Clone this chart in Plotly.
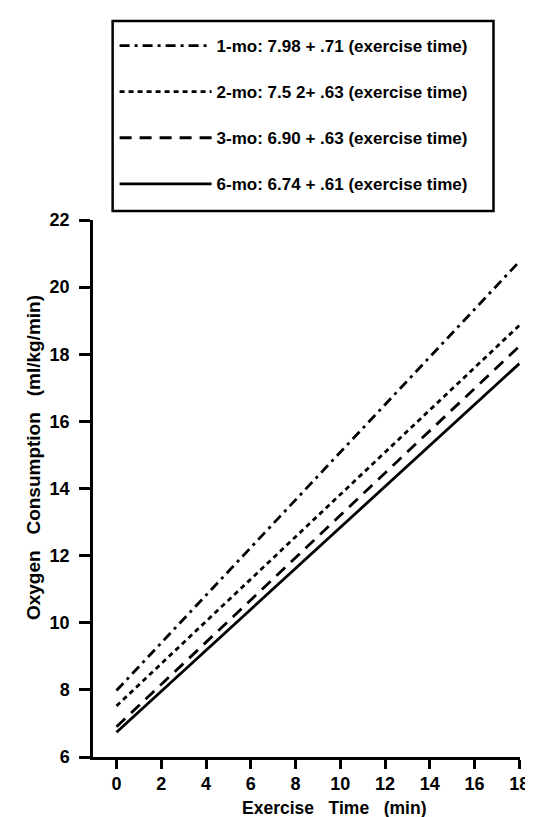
import plotly.graph_objects as go

# Data (line endpoints at exercise time 0 and 18 min)
exercise_time = [0, 18]
names = [
    "1-mo: 7.98 + .71 (exercise time)",
    "2-mo: 7.5 2+ .63 (exercise time)",
    "3-mo: 6.90 + .63 (exercise time)",
    "6-mo: 6.74 + .61 (exercise time)",
]
vo2_1mo = [7.98, 20.76]
vo2_2mo = [7.52, 18.86]
vo2_3mo = [6.90, 18.24]
vo2_6mo = [6.74, 17.72]

x_ticks = [0, 2, 4, 6, 8, 10, 12, 14, 16, 18]
y_ticks = [6, 8, 10, 12, 14, 16, 18, 20, 22]

series = [vo2_1mo, vo2_2mo, vo2_3mo, vo2_6mo]
dashes = ["10px,5px,3px,5px", "5px,4px", "12px,8px", "solid"]

FONT = "Liberation Sans"
W, H = 533, 817
L, R, T, B = 85, 13, 212, 68
pw = W - L - R
ph = H - T - B


def px_x(p):
    return (p - L) / pw


def px_y(p):
    return (H - B - p) / ph


fig = go.Figure()
for i, (nm, ys, d) in enumerate(zip(names, series, dashes)):
    fig.add_trace(go.Scatter(
        x=exercise_time, y=ys, mode="lines", name=nm,
        legendgroup=f"g{i}",
        line=dict(color="black", width=2.8, dash=d),
    ))

fig.update_layout(
    width=W, height=H,
    margin=dict(l=L, r=R, t=T, b=B),
    paper_bgcolor="white", plot_bgcolor="white",
    font=dict(family=FONT, color="black", size=15, weight="bold"),
    showlegend=True,
    legend=dict(
        x=px_x(107), y=px_y(20), xanchor="left", yanchor="top",
        borderwidth=0,
        font=dict(family=FONT, size=17, color="black", weight="bold"),
        itemwidth=92, tracegroupgap=21,
        bgcolor="rgba(0,0,0,0)",
    ),
    xaxis=dict(
        range=[-1.05, 18.03], tickvals=x_ticks, ticktext=[str(v) for v in x_ticks],
        showgrid=False, zeroline=False, showline=True, linecolor="black", linewidth=2.5,
        ticks="outside", ticklen=9, tickwidth=2.5, tickcolor="black",
        tickfont=dict(family=FONT, size=18, weight="bold"),
        ticklabeloverflow="allow",
    ),
    yaxis=dict(
        range=[6, 22], tickvals=y_ticks, ticktext=[str(v) for v in y_ticks],
        showgrid=False, zeroline=False, showline=True, linecolor="black", linewidth=2.5,
        ticks="outside", ticklen=11, tickwidth=2.5, tickcolor="black",
        tickfont=dict(family=FONT, size=18, weight="bold"),
        ticklabelstandoff=6,
    ),
    shapes=[
        dict(type="rect", xref="paper", yref="paper",
             x0=px_x(105), x1=px_x(493), y0=px_y(203), y1=px_y(13),
             line=dict(color="black", width=2.5), fillcolor="rgba(0,0,0,0)"),
    ],
)

fig.add_annotation(
    text="Exercise\u00a0\u00a0\u00a0Time\u00a0\u00a0\u00a0(min)",
    x=px_x(331), y=px_y(800), xref="paper", yref="paper",
    xanchor="center", yanchor="middle",
    showarrow=False, font=dict(family=FONT, size=17.5, weight="bold"),
)
fig.add_annotation(
    text="Oxygen\u00a0\u00a0\u00a0Consumption\u00a0\u00a0\u00a0(ml/kg/min)", textangle=-90,
    x=px_x(24), y=px_y(450), xref="paper", yref="paper",
    xanchor="center", yanchor="middle",
    showarrow=False, font=dict(family=FONT, size=19, weight="bold"),
)

fig.write_html("out.html")
